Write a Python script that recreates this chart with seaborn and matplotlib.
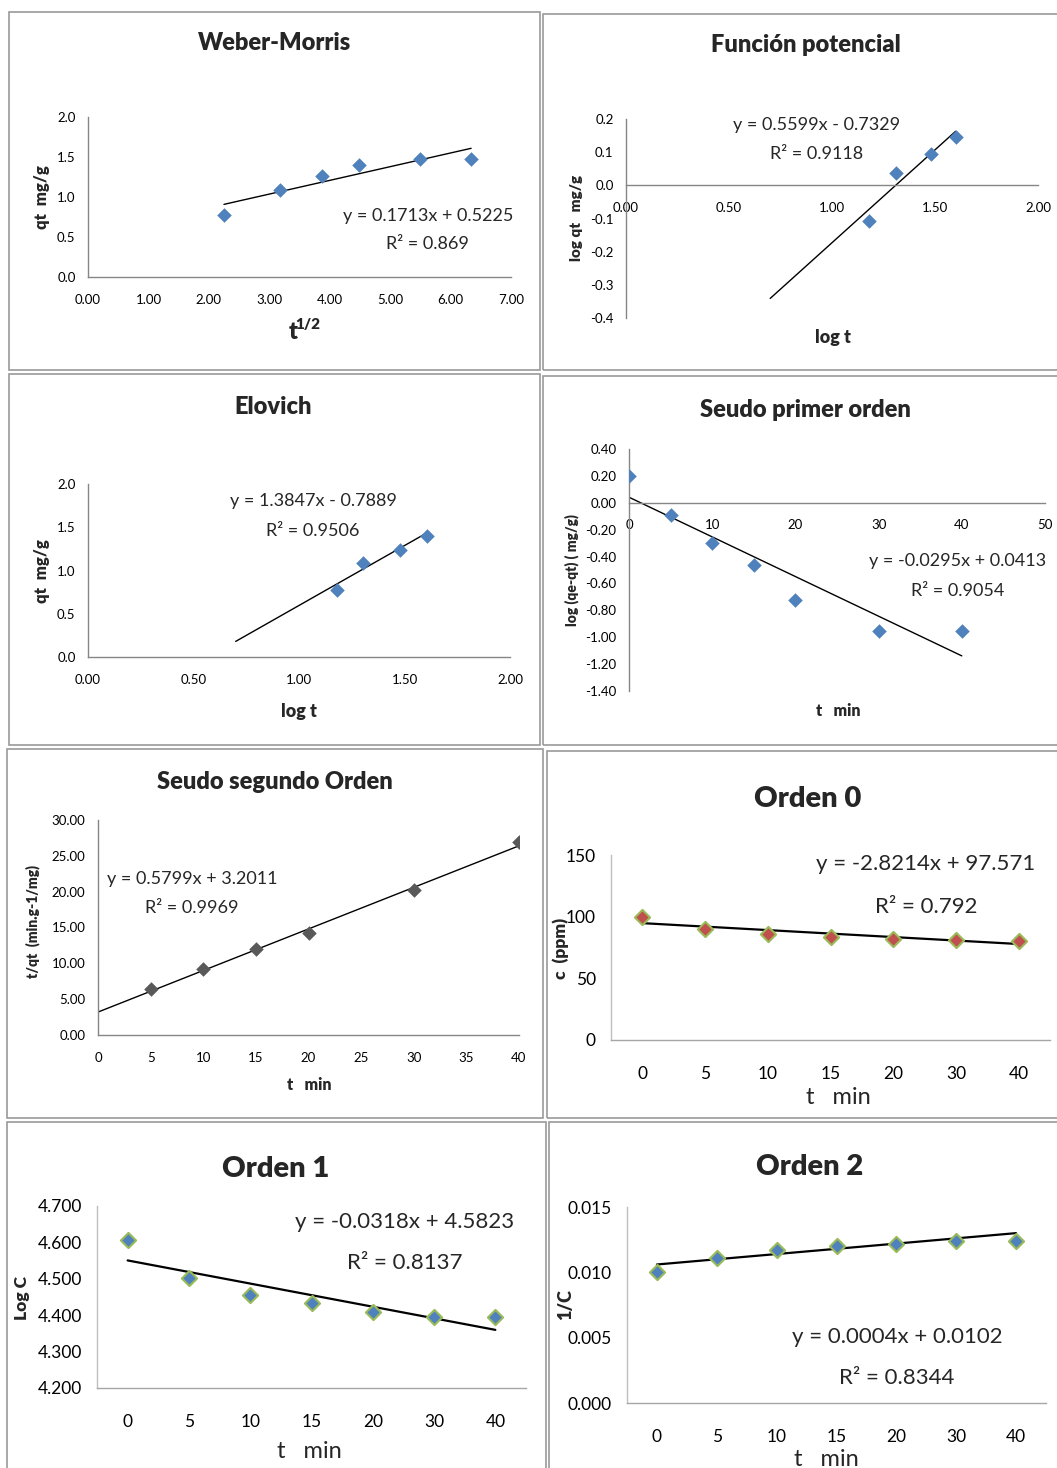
import numpy as np
import seaborn as sns
import matplotlib.pyplot as plt
from matplotlib.patches import Rectangle
from matplotlib.ticker import FormatStrFormatter, MultipleLocator

# --- data ---
# Weber-Morris: qt vs t^1/2
wm_x = [2.25, 3.18, 3.88, 4.49, 5.49, 6.34]
wm_y = [0.78, 1.09, 1.26, 1.40, 1.48, 1.48]
# Función potencial: log qt vs log t
fp_x = [1.18, 1.31, 1.48, 1.60]
fp_y = [-0.107, 0.038, 0.095, 0.147]
# Elovich: qt vs log t
el_x = [1.18, 1.305, 1.48, 1.605]
el_y = [0.77, 1.09, 1.24, 1.40]
# Seudo primer orden
p1_t = [0, 5, 10, 15, 20, 30, 40]
p1_y = [0.20, -0.09, -0.30, -0.46, -0.72, -0.95, -0.95]
# Seudo segundo orden
p2_t = [5, 10, 15, 20, 30, 40]
p2_y = [6.45, 9.15, 11.95, 14.2, 20.2, 26.9]
# Orden 0 / 1 / 2 (time as categories)
t_cat = ['0', '5', '10', '15', '20', '30', '40']
c_ppm = [100.0, 89.7, 85.6, 83.7, 81.8, 80.7, 80.5]
log_c = [4.607, 4.502, 4.455, 4.433, 4.408, 4.396, 4.396]
inv_c = [0.0100, 0.0111, 0.0117, 0.0120, 0.0122, 0.0124, 0.0124]

# trendline equations shown on the charts (slope, intercept, x range of the line)
trends = {
    'wm': (0.1713, 0.5225, (2.25, 6.34)),
    'fp': (0.5599, -0.7329, (0.70, 1.60)),
    'el': (1.3847, -0.7889, (0.70, 1.60)),
    'p1': (-0.0295, 0.0413, (0, 40)),
    'p2': (0.5799, 3.2011, (0, 40)),
    'o0': (-2.8214, 97.571, (1, 7)),
    'o1': (-0.0318, 4.5823, (1, 7)),
    'o2': (0.0004, 0.0102, (1, 7)),
}

W, H = 1057, 1468
BLUE = '#4F81BD'
GREEN = '#9BBB59'
RED = '#C0504D'
AXC = '#868686'
BW = 'heavy'

sns.set_theme(style='white')
plt.rcParams['font.family'] = ['Lato', 'DejaVu Sans']

fig = plt.figure(figsize=(W / 100, H / 100), dpi=100)


def px_axes(left, top, right, bottom):
    return fig.add_axes([left / W, 1 - bottom / H, (right - left) / W, (bottom - top) / H])


def px_text(x, y, s, **kw):
    kw.setdefault('ha', 'center')
    kw.setdefault('va', 'center')
    fig.text(x / W, 1 - y / H, s, **kw)


def style(ax, ticks=True, size=9.5, xpad=7, ypad=4):
    ax.set_facecolor('none')
    for side in ['top', 'right']:
        ax.spines[side].set_visible(False)
    for side in ['left', 'bottom']:
        ax.spines[side].set_color(AXC)
        ax.spines[side].set_linewidth(1.0)
    ax.tick_params(axis='both', colors=AXC, labelcolor='black', labelsize=size,
                   length=5 if ticks else 0, width=1, direction='out')
    ax.tick_params(axis='x', pad=xpad)
    ax.tick_params(axis='y', pad=ypad)
    ax.grid(False)
    ax.set_xlabel('')
    ax.set_ylabel('')


def trend(ax, key, lw=1.0, offset=0):
    m, b, (x0, x1) = trends[key]
    xs = np.array([x0, x1], dtype=float)
    sns.lineplot(x=xs - offset, y=m * xs + b, ax=ax, color='black', lw=lw, legend=False)


def scatter(ax, x, y, color=BLUE, edge=None, s=55):
    sns.scatterplot(x=x, y=y, ax=ax, marker='D', s=s, color=color,
                    edgecolor=edge if edge else color, linewidth=1.5 if edge else 0,
                    legend=False, zorder=3)


# panel frames
frames = [(9, 12, 540, 370), (543, 14, 1062, 370),
          (9, 374, 540, 745), (543, 376, 1062, 745),
          (7, 749, 543, 1118), (547, 751, 1062, 1118),
          (7, 1122, 546, 1475), (549, 1122, 1062, 1475)]
for x0, y0, x1, y1 in frames:
    fig.patches.append(Rectangle((x0 / W, 1 - y1 / H), (x1 - x0) / W, (y1 - y0) / H,
                                 transform=fig.transFigure, fill=False,
                                 edgecolor='#9a9a9a', lw=1.2))

TFS = 17   # titles of the small charts
EQ = 13

# 1. Weber-Morris
ax = px_axes(88, 117, 511, 277)
scatter(ax, wm_x, wm_y)
trend(ax, 'wm')
ax.set_xlim(0, 7)
ax.set_ylim(0, 2)
ax.xaxis.set_major_locator(MultipleLocator(1))
ax.yaxis.set_major_locator(MultipleLocator(0.5))
ax.xaxis.set_major_formatter(FormatStrFormatter('%.2f'))
ax.yaxis.set_major_formatter(FormatStrFormatter('%.1f'))
style(ax)
px_text(275, 43, 'Weber-Morris', fontsize=TFS, fontweight=BW)
px_text(428, 216, 'y = 0.1713x + 0.5225', fontsize=EQ)
px_text(427, 244, 'R² = 0.869', fontsize=EQ)
px_text(42, 197, 'qt  mg/g', fontsize=12, fontweight=BW, rotation=90)
px_text(293, 332, 't', fontsize=17, fontweight=BW)
px_text(308, 325, '1/2', fontsize=11, fontweight=BW)

# 2. Función potencial
ax = px_axes(626, 119, 1038, 318)
scatter(ax, fp_x, fp_y)
trend(ax, 'fp')
ax.set_xlim(0, 2)
ax.set_ylim(-0.4, 0.2)
ax.xaxis.set_major_locator(MultipleLocator(0.5))
ax.yaxis.set_major_locator(MultipleLocator(0.1))
ax.xaxis.set_major_formatter(FormatStrFormatter('%.2f'))
ax.yaxis.set_major_formatter(FormatStrFormatter('%.1f'))
style(ax)
ax.spines['bottom'].set_position(('data', 0))
px_text(806, 45, 'Función potencial', fontsize=TFS, fontweight=BW)
px_text(817, 125, 'y = 0.5599x - 0.7329', fontsize=EQ)
px_text(817, 154, 'R² = 0.9118', fontsize=EQ)
px_text(576, 218, 'log qt   mg/g', fontsize=11, fontweight=BW, rotation=90)
px_text(833, 337, 'log t', fontsize=13, fontweight=BW)

# 3. Elovich
ax = px_axes(88, 484, 510, 657)
scatter(ax, el_x, el_y)
trend(ax, 'el')
ax.set_xlim(0, 2)
ax.set_ylim(0, 2)
ax.xaxis.set_major_locator(MultipleLocator(0.5))
ax.yaxis.set_major_locator(MultipleLocator(0.5))
ax.xaxis.set_major_formatter(FormatStrFormatter('%.2f'))
ax.yaxis.set_major_formatter(FormatStrFormatter('%.1f'))
style(ax)
px_text(273, 407, 'Elovich', fontsize=TFS, fontweight=BW)
px_text(313, 501, 'y = 1.3847x - 0.7889', fontsize=EQ)
px_text(313, 531, 'R² = 0.9506', fontsize=EQ)
px_text(42, 571, 'qt  mg/g', fontsize=12, fontweight=BW, rotation=90)
px_text(299, 711, 'log t', fontsize=13, fontweight=BW)

# 4. Seudo primer orden
ax = px_axes(629, 449, 1045, 691)
scatter(ax, p1_t, p1_y)
trend(ax, 'p1')
ax.set_xlim(0, 50)
ax.set_ylim(-1.4, 0.4)
ax.xaxis.set_major_locator(MultipleLocator(10))
ax.yaxis.set_major_locator(MultipleLocator(0.2))
ax.yaxis.set_major_formatter(FormatStrFormatter('%.2f'))
style(ax)
ax.spines['bottom'].set_position(('data', 0))
px_text(805, 410, 'Seudo primer orden', fontsize=TFS, fontweight=BW)
px_text(958, 561, 'y = -0.0295x + 0.0413', fontsize=EQ)
px_text(958, 591, 'R² = 0.9054', fontsize=EQ)
px_text(572, 570, 'log (qe-qt) ( mg/g)', fontsize=10, fontweight=BW, rotation=90)
px_text(838, 711, 't   min', fontsize=11.5, fontweight=BW)

# 5. Seudo segundo orden
ax = px_axes(98, 820, 519, 1035)
scatter(ax, p2_t, p2_y, color='#595959')
trend(ax, 'p2')
ax.set_xlim(0, 40)
ax.set_ylim(0, 30)
ax.xaxis.set_major_locator(MultipleLocator(5))
ax.yaxis.set_major_locator(MultipleLocator(5))
ax.yaxis.set_major_formatter(FormatStrFormatter('%.2f'))
style(ax)
px_text(275, 782, 'Seudo segundo Orden', fontsize=TFS, fontweight=BW)
px_text(192, 879, 'y = 0.5799x + 3.2011', fontsize=EQ)
px_text(192, 908, 'R² = 0.9969', fontsize=EQ)
px_text(33, 922, 't/qt  (min.g-1/mg)', fontsize=10, fontweight=BW, rotation=90)
px_text(309, 1085, 't   min', fontsize=11.5, fontweight=BW)

# Orden 0/1/2: category axis, trendline uses category index 1..7
pos = np.arange(len(t_cat))
BTFS = 21
BEQ = 16
BTK = 12.5


def orden(ax, values, key, face):
    scatter(ax, pos, values, color=face, edge=GREEN, s=60)
    trend(ax, key, lw=1.6, offset=1)
    ax.set_xlim(-0.5, len(t_cat) - 0.5)
    ax.set_xticks(pos)
    ax.set_xticklabels(t_cat)
    style(ax, ticks=False, size=BTK, xpad=19, ypad=11)
    ax.spines['left'].set_color('#bfbfbf')
    ax.spines['bottom'].set_color('#a6a6a6')


# 6. Orden 0
ax = px_axes(611, 855, 1050, 1040)
orden(ax, c_ppm, 'o0', RED)
ax.set_ylim(0, 150)
ax.yaxis.set_major_locator(MultipleLocator(50))
px_text(808, 799, 'Orden 0', fontsize=BTFS, fontweight=BW)
px_text(926, 864, 'y = -2.8214x + 97.571', fontsize=BEQ)
px_text(926, 907, 'R² = 0.792', fontsize=BEQ)
px_text(561, 948, 'c  (ppm)', fontsize=12.5, fontweight=BW, rotation=90)
px_text(838, 1097, 't   min', fontsize=17)

# 7. Orden 1
ax = px_axes(97, 1206, 526, 1388)
orden(ax, log_c, 'o1', BLUE)
ax.set_ylim(4.2, 4.7)
ax.yaxis.set_major_locator(MultipleLocator(0.1))
ax.yaxis.set_major_formatter(FormatStrFormatter('%.3f'))
px_text(276, 1169, 'Orden 1', fontsize=BTFS, fontweight=BW)
px_text(405, 1222, 'y = -0.0318x + 4.5823', fontsize=BEQ)
px_text(405, 1263, 'R² = 0.8137', fontsize=BEQ)
px_text(22, 1298, 'Log C', fontsize=12.5, fontweight=BW, rotation=90)
px_text(309, 1452, 't   min', fontsize=17)

# 8. Orden 2
ax = px_axes(627, 1207, 1046, 1403)
orden(ax, inv_c, 'o2', BLUE)
ax.set_ylim(0, 0.015)
ax.yaxis.set_major_locator(MultipleLocator(0.005))
ax.yaxis.set_major_formatter(FormatStrFormatter('%.3f'))
px_text(810, 1167, 'Orden 2', fontsize=BTFS, fontweight=BW)
px_text(897, 1337, 'y = 0.0004x + 0.0102', fontsize=BEQ)
px_text(897, 1378, 'R² = 0.8344', fontsize=BEQ)
px_text(566, 1305, '1/C', fontsize=13, fontweight=BW, rotation=90)
px_text(826, 1460, 't   min', fontsize=17)

fig.savefig('out.png', dpi=100, facecolor='white')
